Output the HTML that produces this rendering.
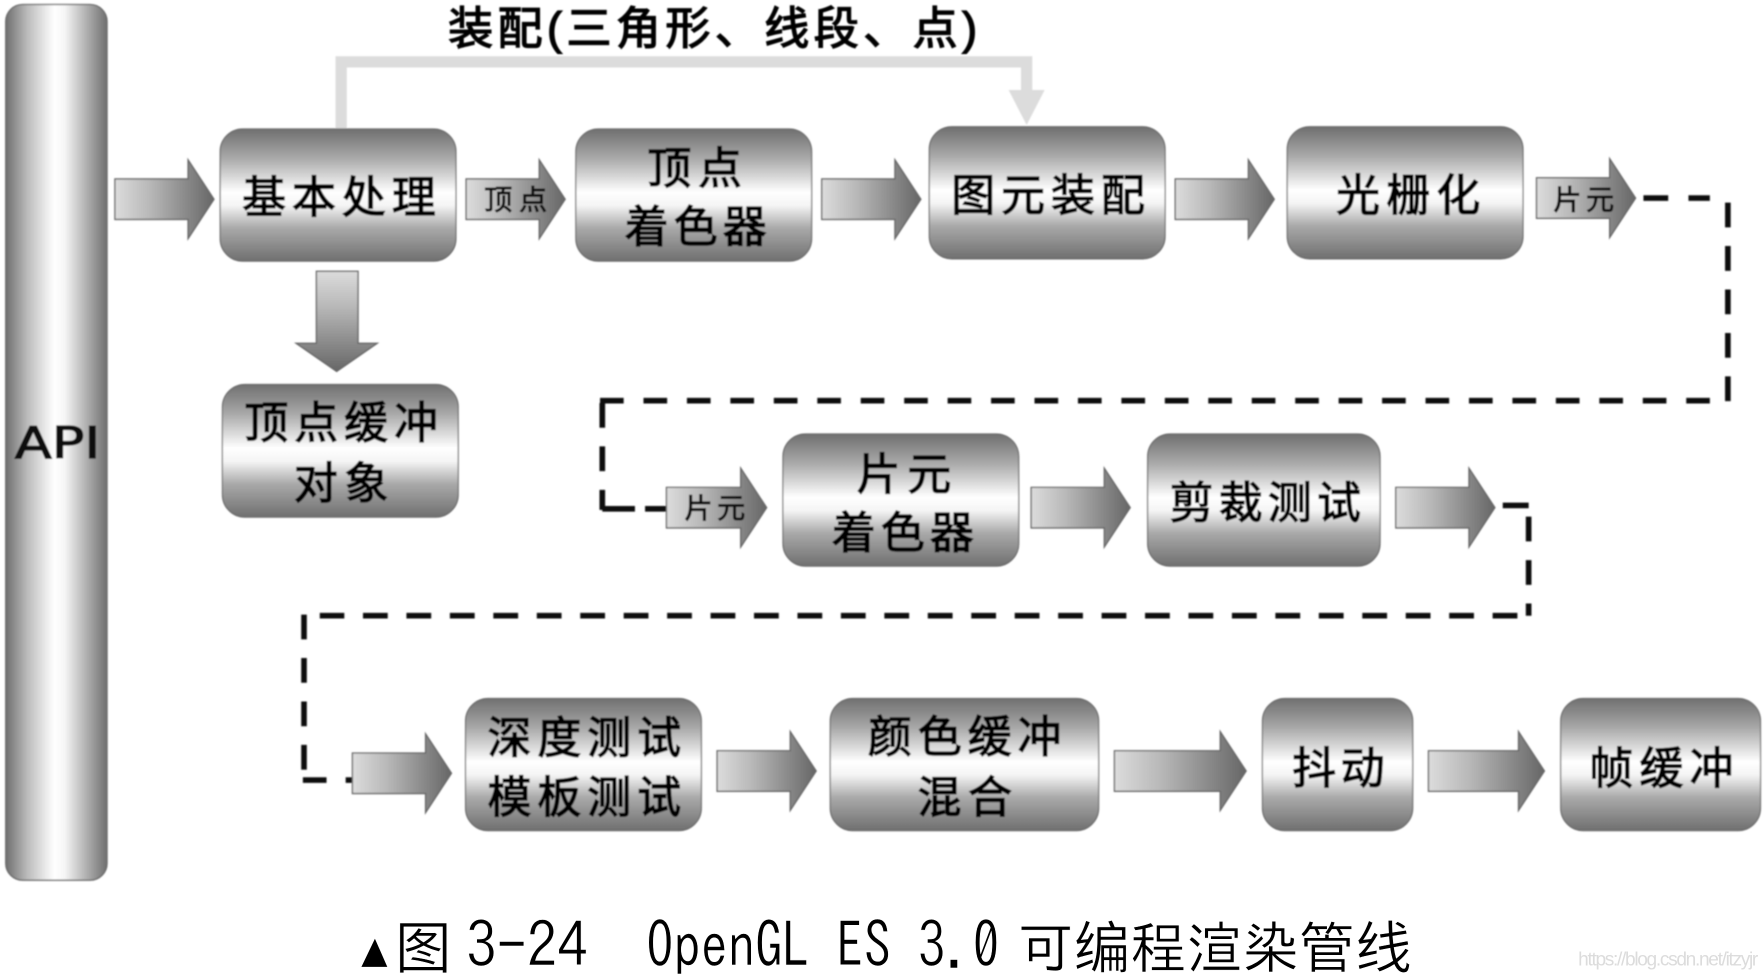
<!DOCTYPE html>
<html lang="zh">
<head>
<meta charset="utf-8">
<title>OpenGL ES 3.0</title>
<style>
html,body{margin:0;padding:0;background:#fff;width:1764px;height:977px;overflow:hidden}
svg{display:block}
.n{font-family:"Liberation Sans","WenQuanYi Zen Hei","Noto Sans CJK SC",sans-serif;font-size:39px;fill:#000;stroke:#000;stroke-width:1.2px}
.s{font-family:"Liberation Sans","WenQuanYi Zen Hei","Noto Sans CJK SC",sans-serif;font-size:25px;fill:#111;stroke:#111;stroke-width:.8px}
.box{fill:url(#v);stroke:#6a6a6a;stroke-width:1}
.arr{fill:url(#h);stroke:#666;stroke-width:1.2}
.cap{font-family:IPAGothic,"WenQuanYi Zen Hei",sans-serif;font-size:50px;fill:#000;stroke:#fff;stroke-width:.45px}
.dash{fill:none;stroke:#111;stroke-width:5}
</style>
</head>
<body>
<svg width="1764" height="977" viewBox="0 0 1567 868" xmlns="http://www.w3.org/2000/svg">
<defs>
<linearGradient id="v" x1="0" y1="0" x2="0" y2="1">
<stop offset="0" stop-color="#6f6f6f"/><stop offset=".22" stop-color="#a8a8a8"/><stop offset=".48" stop-color="#fff"/><stop offset=".58" stop-color="#f4f4f4"/><stop offset=".75" stop-color="#a9a9a9"/><stop offset="1" stop-color="#6f6f6f"/>
</linearGradient>
<linearGradient id="c" x1="0" y1="0" x2="1" y2="0">
<stop offset="0" stop-color="#6f6f6f"/><stop offset=".22" stop-color="#bdbdbd"/><stop offset=".48" stop-color="#fff"/><stop offset=".58" stop-color="#f6f6f6"/><stop offset=".78" stop-color="#b5b5b5"/><stop offset="1" stop-color="#6f6f6f"/>
</linearGradient>
<linearGradient id="h" x1="0" y1="0" x2="1" y2="0">
<stop offset="0" stop-color="#dcdcdc"/><stop offset=".35" stop-color="#b8b8b8"/><stop offset="1" stop-color="#666"/>
</linearGradient>
<linearGradient id="d" x1="0" y1="0" x2="0" y2="1">
<stop offset="0" stop-color="#dcdcdc"/><stop offset=".35" stop-color="#b8b8b8"/><stop offset="1" stop-color="#666"/>
</linearGradient>
<filter id="b" x="-5%" y="-5%" width="110%" height="110%"><feGaussianBlur stdDeviation=".6"/></filter>
</defs>

<g filter="url(#b)">
<!-- assembly connector -->
<path d="M303 114V55H912V82" fill="none" stroke="#dcdcdc" stroke-width="10"/>
<polygon points="896,80 928,80 912,111" fill="#dcdcdc"/>

<!-- dashed connectors -->
<path class="dash" d="M1460 176H1519" stroke-dasharray="22 18"/>
<path class="dash" d="M1535 180V357" stroke-dasharray="22 16.6"/>
<path class="dash" d="M1519 356H533" stroke-dasharray="21 17.6"/>
<path class="dash" d="M535 358V453" stroke-dasharray="22 16.6"/>
<path class="dash" d="M535 452H564M573 452H592"/>
<path class="dash" d="M1335 449H1358"/>
<path class="dash" d="M1358 459V547" stroke-dasharray="22 16.6"/>
<path class="dash" d="M1348 547H284" stroke-dasharray="22 16.6"/>
<path class="dash" d="M270 546V685" stroke-dasharray="22 16.6"/>
<path class="dash" d="M269 693H290M307 693H313"/>

<!-- API bar -->
<rect x="5" y="4" width="90" height="778" rx="15" fill="url(#c)" stroke="#6a6a6a" stroke-width="1.2"/>
<text x="13" y="407" font-family="'DejaVu Sans',sans-serif" font-size="39" fill="#111" stroke="#111" stroke-width="1.1" textLength="76" lengthAdjust="spacingAndGlyphs">API</text>

<!-- arrows -->
<polygon class="arr" points="102,159 167,159 167,142 190,177 167,212 167,195 102,195"/>
<polygon class="arr" points="414,159 479,159 479,142 502,177 479,212 479,195 414,195"/>
<polygon class="arr" points="730,159 795,159 795,142 818,177 795,212 795,195 730,195"/>
<polygon class="arr" points="1044,159 1109,159 1109,142 1132,177 1109,212 1109,195 1044,195"/>
<polygon class="arr" points="1365,158 1430,158 1430,141 1453,176 1430,211 1430,194 1365,194"/>
<polygon points="281,241 318,241 318,305 335,305 299,330 263,305 281,305" fill="url(#d)" stroke="#666" stroke-width="1.2"/>
<polygon class="arr" points="592,433 658,433 658,416 681,451 658,486 658,469 592,469"/>
<polygon class="arr" points="916,433 981,433 981,416 1004,451 981,486 981,469 916,469"/>
<polygon class="arr" points="1240,433 1305,433 1305,416 1328,451 1305,486 1305,469 1240,469"/>
<polygon class="arr" points="313,669 378,669 378,652 401,687 378,722 378,705 313,705"/>
<polygon class="arr" points="637,667 702,667 702,650 725,685 702,720 702,703 637,703"/>
<polygon class="arr" points="990,667 1084,667 1084,650 1107,685 1084,720 1084,703 990,703"/>
<polygon class="arr" points="1269,667 1349,667 1349,650 1372,685 1349,720 1349,703 1269,703"/>

<!-- boxes -->
<rect class="box" x="195.5" y="114.5" width="209.5" height="117.5" rx="20"/>
<rect class="box" x="511.5" y="114.5" width="209.5" height="117.5" rx="20"/>
<rect class="box" x="825.5" y="112.5" width="209.5" height="117.5" rx="20"/>
<rect class="box" x="1143.5" y="112.5" width="209.5" height="117.5" rx="20"/>
<rect class="box" x="197.5" y="341.5" width="209.5" height="118" rx="20"/>
<rect class="box" x="695.5" y="385.5" width="209.5" height="117.5" rx="20"/>
<rect class="box" x="1019.5" y="385.5" width="206.5" height="117.5" rx="20"/>
<rect class="box" x="413.5" y="620.5" width="209.5" height="117.5" rx="20"/>
<rect class="box" x="737.5" y="620.5" width="238.5" height="117.5" rx="20"/>
<rect class="box" x="1121.5" y="620.5" width="133.5" height="117.5" rx="20"/>
<rect class="box" x="1386.5" y="620.5" width="177.5" height="117.5" rx="20"/>

<!-- labels -->
<text class="n" x="398" y="39" textLength="470" style="font-size:40px">装配(三角形、线段、点)</text>
<text class="n" x="215" y="189" textLength="172">基本处理</text>
<text class="s" x="430" y="186" textLength="56">顶点</text>
<text class="n" x="575" y="163" textLength="84">顶点</text>
<text class="n" x="555" y="215" textLength="126">着色器</text>
<text class="n" x="845" y="187" textLength="172">图元装配</text>
<text class="n" x="1187" y="187" textLength="128">光栅化</text>
<text class="s" x="1380" y="186" textLength="54">片元</text>
<text class="n" x="217" y="389" textLength="172">顶点缓冲</text>
<text class="n" x="261" y="443" textLength="84">对象</text>
<text class="s" x="608" y="460" textLength="54">片元</text>
<text class="n" x="761" y="435" textLength="84">片元</text>
<text class="n" x="739" y="487" textLength="126">着色器</text>
<text class="n" x="1039" y="460" textLength="170">剪裁测试</text>
<text class="n" x="433" y="669" textLength="172">深度测试</text>
<text class="n" x="433" y="722" textLength="172">模板测试</text>
<text class="n" x="771" y="668" textLength="172">颜色缓冲</text>
<text class="n" x="815" y="722" textLength="84">混合</text>
<text class="n" x="1148" y="696" textLength="82">抖动</text>
<text class="n" x="1412" y="696" textLength="128">帧缓冲</text>
</g>

<!-- caption -->
<polygon points="321,859 344,859 333,834" fill="#000"/>
<text class="cap" x="351" y="860">图</text>
<text class="cap" transform="translate(414 860) scale(1 1.12)" textLength="108" lengthAdjust="spacingAndGlyphs">3-24</text>
<text class="cap" transform="translate(574 860) scale(1 1.12)" textLength="314" lengthAdjust="spacingAndGlyphs">OpenGL ES 3.0</text>
<text class="cap" x="904" y="860" textLength="350">可编程渲染管线</text>
<text x="1402" y="858" font-size="17" fill="#dcdcdc" font-family="'Liberation Sans',sans-serif" textLength="160">https://blog.csdn.net/itzyjr</text>
</svg>
</body>
</html>
